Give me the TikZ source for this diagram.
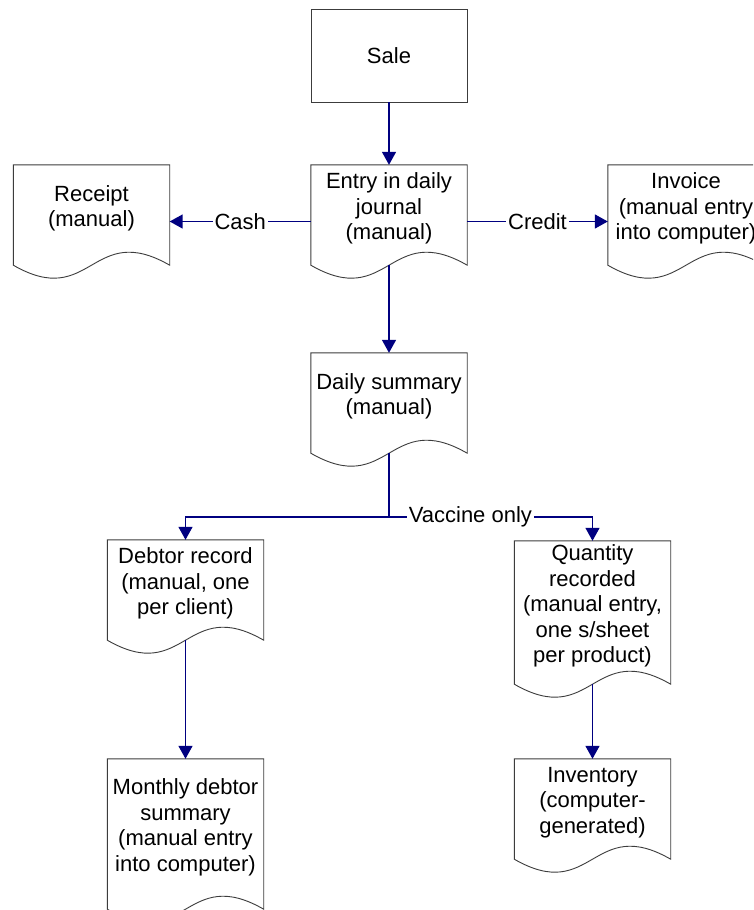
\documentclass[tikz,border=0pt]{standalone}
\usepackage{fontspec}
\setmainfont{Liberation Sans}
\usetikzlibrary{arrows.meta,calc}

\definecolor{flowblue}{RGB}{0,0,128}
\definecolor{outline}{RGB}{60,60,60}

\tikzset{
  txt/.style={font=\fontsize{22}{25.5}\selectfont},
  procbox/.style={rectangle, draw=outline, line width=0.9pt, minimum width=156pt,
    minimum height=93pt, inner sep=0pt, txt},
  docbox/.style={rectangle, draw=none, minimum width=156pt, inner sep=0pt},
  docline/.style={draw=outline, line width=0.9pt, fill=white},
  doctext/.style={align=center, inner sep=0pt, txt},
  conn/.style={draw=flowblue, line width=1.5pt, -{Triangle[length=13pt,width=14pt]}},
  plain/.style={draw=flowblue, line width=1.5pt},
  flowlabel/.style={fill=white, inner xsep=2pt, inner ysep=1pt, txt},
}

% document symbol: flat top, straight sides, wavy bottom edge
\newcommand\docoutline[1]{%
  \draw[docline] (#1.north west) -- (#1.north east) -- ([yshift=13pt]#1.south east)
    .. controls ([yshift=58pt]#1.south) and ([yshift=-32pt]#1.south)
    .. ([yshift=13pt]#1.south west) -- cycle;}
% text sits above the wave
\newcommand\doclabel[2]{%
  \node[doctext] (#1-t) at ($(#1.north)!0.5!([yshift=26pt]#1.south)$) {#2};}

\begin{document}
\begin{tikzpicture}[x=1pt,y=-1pt]
  \clip (0,0) rectangle (753,910);
  \fill[white] (0,0) rectangle (753,910);

  % sale
  \node[procbox] (sale) at (389,55.5) {Sale};

  % document nodes
  \node[docbox, minimum height=113pt] (entry)   at (389,221.5) {};
  \node[docbox, minimum height=113pt] (receipt) at (91.5,221.5) {};
  \node[docbox, minimum height=113pt] (invoice) at (686,221.5) {};
  \node[docbox, minimum height=113pt] (summary) at (389,409.5) {};
  \node[docbox, minimum height=113pt] (debtor)  at (185.5,596.5) {};
  \node[docbox, minimum height=156pt] (qty)     at (592.5,619) {};
  \node[docbox, minimum height=163pt] (monthly) at (185.5,840.5) {};
  \node[docbox, minimum height=113pt] (inv)     at (592.5,815.5) {};

  \foreach \n in {entry,receipt,invoice,summary,debtor,qty,monthly,inv}
    {\docoutline{\n}}

  \doclabel{entry}{Entry in daily\\journal\\(manual)}
  \doclabel{receipt}{Receipt\\(manual)}
  \doclabel{invoice}{Invoice\\(manual entry\\into computer)}
  \doclabel{summary}{Daily summary\\(manual)}
  \doclabel{debtor}{Debtor record\\(manual, one\\per client)}
  \doclabel{qty}{Quantity\\recorded\\(manual entry,\\one s/sheet\\per product)}
  \doclabel{monthly}{Monthly debtor\\summary\\(manual entry\\into computer)}
  \doclabel{inv}{Inventory\\(computer-\\generated)}

  % connectors
  \draw[conn] (sale.south) -- (entry.north);
  \draw[conn] (entry.west) -- node[flowlabel] (cash) {Cash} (receipt.east);
  \draw[conn] (entry.east) -- node[flowlabel] (credit) {Credit} (invoice.east -| invoice.west);
  \draw[conn] ([yshift=13pt]entry.south) -- (summary.north);

  \coordinate (fork) at (389,517);
  \draw[plain] ([yshift=13pt]summary.south) -- (fork);
  \draw[conn] (fork) -| (debtor.north);
  \draw[conn] (fork) -| node[flowlabel, pos=0.2] (vacc) {Vaccine only} (qty.north);

  \draw[conn] ([yshift=13pt]debtor.south) -- (monthly.north);
  \draw[conn] ([yshift=13pt]qty.south) -- (inv.north);
\end{tikzpicture}
\end{document}
